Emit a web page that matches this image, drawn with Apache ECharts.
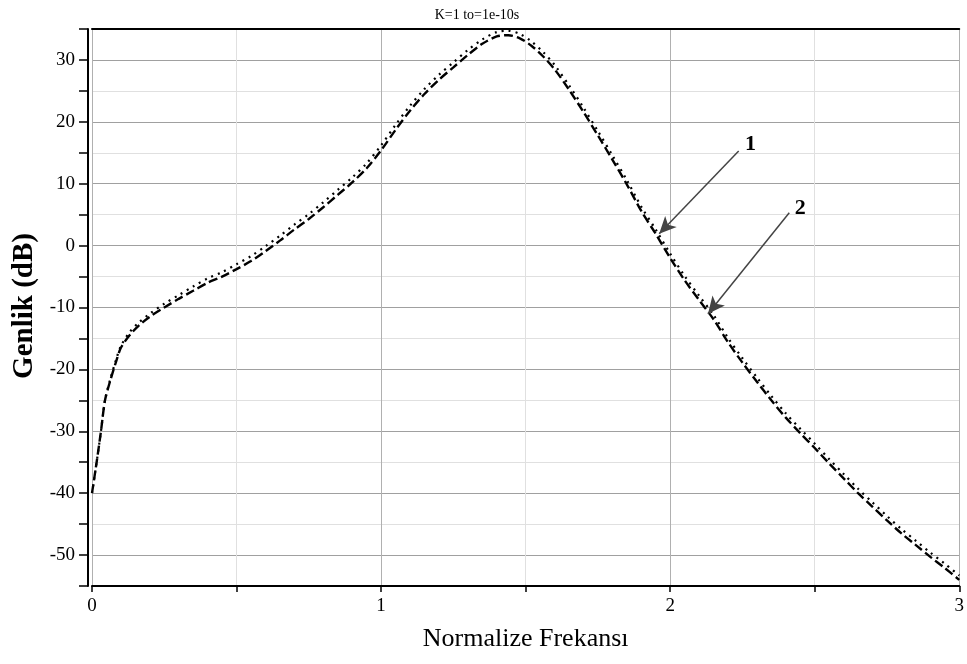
<!DOCTYPE html>
<html><head><meta charset="utf-8">
<script src="https://cdn.jsdelivr.net/npm/echarts@6/dist/echarts.min.js"></script>
<style>html,body{margin:0;padding:0;background:#fff;overflow:hidden}#c{width:967px;height:664px}</style>
</head><body><div id="c"></div>
<script>
const freq = [0,0.016,0.031,0.045,0.062,0.085,0.10,0.13,0.16,0.20,0.25,0.30,0.35,0.40,0.45,0.50,0.55,0.60,0.65,0.70,0.75,0.80,0.85,0.90,0.95,1.00,1.05,1.10,1.15,1.20,1.25,1.30,1.35,1.40,1.44,1.48,1.52,1.56,1.60,1.65,1.70,1.75,1.80,1.85,1.90,1.95,2.00,2.05,2.10,2.15,2.20,2.25,2.30,2.35,2.40,2.45,2.50,2.55,2.60,2.65,2.70,2.75,2.80,2.85,2.90,2.95,3.00];
const curve1 = [-40,-35,-30,-25,-22,-18.5,-16.5,-14.5,-13,-11.5,-10,-8.6,-7.3,-6.0,-5.0,-3.8,-2.5,-0.9,0.8,2.6,4.3,6.2,8.2,10.2,12.5,15.4,18.7,21.8,24.5,26.8,28.8,30.8,32.6,33.8,34.0,33.5,32.3,30.6,28.5,25.2,21.6,17.8,13.9,9.9,5.6,1.9,-2.0,-5.6,-8.8,-11.9,-15.6,-18.9,-22.0,-25.0,-27.8,-30.3,-32.7,-35.2,-37.6,-40.0,-42.2,-44.4,-46.5,-48.4,-50.3,-52.1,-54.0];
const curve2 = [-40,-35,-30,-25,-21.8,-18.2,-16.2,-14.0,-12.5,-11.0,-9.4,-8.0,-6.6,-5.3,-4.3,-3.0,-1.7,-0.1,1.6,3.4,5.1,7.0,9.0,11.0,13.3,16.2,19.5,22.6,25.3,27.6,29.6,31.6,33.3,34.5,34.7,34.2,33.0,31.3,29.2,25.9,22.3,18.5,14.6,10.6,6.3,2.6,-1.3,-4.9,-8.1,-11.2,-14.9,-18.2,-21.3,-24.3,-27.1,-29.6,-32.0,-34.5,-36.9,-39.3,-41.5,-43.7,-45.8,-47.7,-49.6,-51.4,-53.3];
const xTickLabels = ['0','1','2','3'];
const arrowLabels = ['1','2'];
const arrow1 = [[2.237,15.3],[1.962,1.9]];
const arrow2 = [[2.412,5.3],[2.131,-11.0]];
const labelPos = [[2.278,16.3],[2.450,6.1]];

const chart = echarts.init(document.getElementById('c'), null, {renderer:'canvas'});
const serif = 'Liberation Serif';
chart.setOption({
  animation:false,
  backgroundColor:'#fff',
  title:{text:'K=1 to=1e-10s', left:472, top:3, textAlign:'center',
    textStyle:{fontFamily:serif, fontSize:14, fontWeight:'normal', color:'#000'}},
  graphic:[{
    type:'text', x:25, y:306, rotation:Math.PI/2,
    style:{text:'Genlik (dB)', font:'bold 29px "Liberation Serif"', fill:'#000',
      textAlign:'center', textVerticalAlign:'middle'}
  }],
  grid:{left:92, right:0, top:29, bottom:78},
  xAxis:[{
    type:'value', min:0, max:3, interval:0.5,
    name:'Normalize Frekansı', nameLocation:'middle', nameGap:40,
    nameTextStyle:{fontFamily:serif, fontSize:26, color:'#000'},
    axisLine:{onZero:false, lineStyle:{color:'#000', width:2}},
    axisTick:{show:true, length:6, lineStyle:{color:'#000', width:1.5}},
    axisLabel:{fontFamily:serif, fontSize:19, color:'#000', margin:11,
      formatter:v => (Math.abs(v - Math.round(v)) < 1e-6 ? xTickLabels[Math.round(v)] : '')},
    splitLine:{show:true, lineStyle:{color:['#b0b0b0','#e0e0e0'], width:1}}
  },{
    type:'value', min:0, max:3, position:'top',
    axisLine:{show:true, onZero:false, lineStyle:{color:'#000', width:2}},
    axisTick:{show:false}, axisLabel:{show:false}, splitLine:{show:false}
  }],
  yAxis:{
    type:'value', min:-55, max:35, interval:5, offset:4,
    axisLine:{show:true, onZero:false, lineStyle:{color:'#000', width:2}},
    axisTick:{show:true, length:9, lineStyle:{color:'#000', width:1.5}},
    axisLabel:{fontFamily:serif, fontSize:19, color:'#000', margin:13,
      formatter:v => (v % 10 === 0 ? String(v) : '')},
    splitLine:{show:true, lineStyle:{color:['#e0e0e0','#a0a0a0'], width:1}}
  },
  series:[{
    type:'line', name:'1', showSymbol:false, smooth:0.3,
    data:freq.map((f,i)=>[f,curve1[i]]),
    lineStyle:{color:'#000', width:2.4, type:[9,4]},
    markLine:{
      silent:true, symbol:['none','arrow'], symbolSize:[12,17],
      lineStyle:{color:'#444', width:1.5, type:'solid'},
      label:{show:false},
      data:[
        [{coord:arrow1[0]},{coord:arrow1[1]}],
        [{coord:arrow2[0]},{coord:arrow2[1]}]
      ]
    },
    markPoint:{
      silent:true, symbol:'circle', symbolSize:1, itemStyle:{color:'rgba(0,0,0,0)'},
      label:{show:true, position:'inside', fontFamily:serif, fontSize:22, fontWeight:'bold', color:'#000',
        formatter:p=>p.name},
      data:[
        {name:arrowLabels[0], coord:labelPos[0]},
        {name:arrowLabels[1], coord:labelPos[1]}
      ]
    }
  },{
    type:'line', name:'2', showSymbol:false, smooth:0.3,
    data:freq.map((f,i)=>[f,curve2[i]]),
    lineStyle:{color:'#000', width:2.2, type:[2,5]}
  }]
});
</script></body></html>
